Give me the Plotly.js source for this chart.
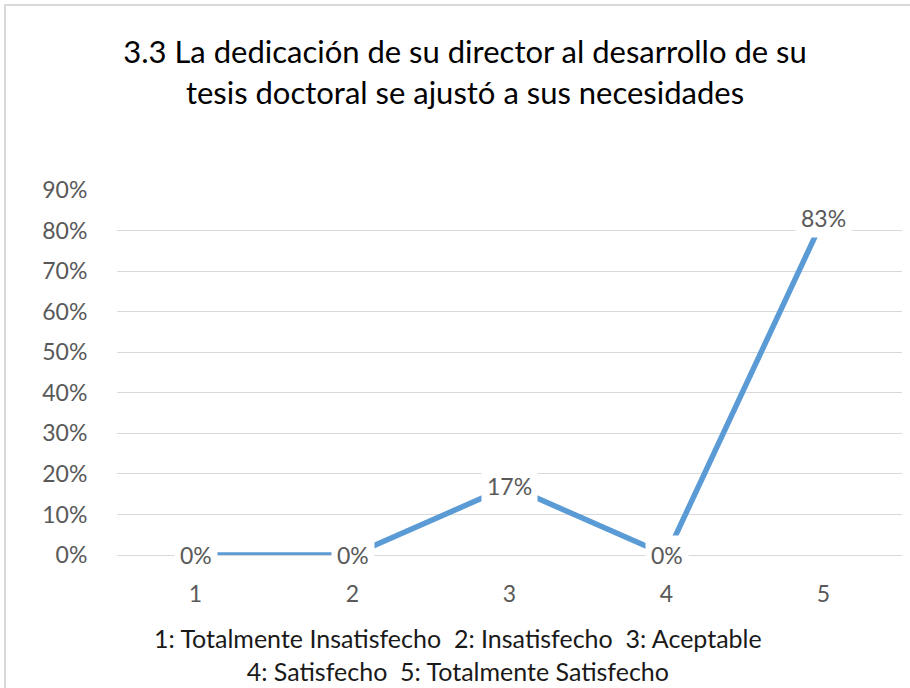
<!DOCTYPE html>
<html><head><meta charset="utf-8">
<script src="https://cdn.plot.ly/plotly-3.0.1.min.js"></script>
<style>
html,body{margin:0;padding:0;background:#fff;overflow:hidden;}
#frame{position:absolute;left:4px;top:4px;width:920px;height:700px;border:2px solid #d9d9d9;}
#chart{position:absolute;left:0;top:0;width:910px;height:688px;}
</style></head>
<body>
<div id="frame"></div>
<div id="chart"></div>
<script>
const categories = ['1','2','3','4','5'];
const values = [0, 0, 0.17, 0, 0.83];
const labels = ['0%','0%','17%','0%','83%'];
const yTicks = [0,0.1,0.2,0.3,0.4,0.5,0.6,0.7,0.8,0.9];
const yTickText = ['0%','10%','20%','30%','40%','50%','60%','70%','80%','90%'];
const titleText = '3.3 La dedicación de su director al desarrollo de su<br>tesis doctoral se ajustó a sus necesidades';
const legendText = '1: Totalmente Insatisfecho  2: Insatisfecho  3: Aceptable<br>4: Satisfecho  5: Totalmente Satisfecho';

const FONT = "Lato, 'Open Sans', sans-serif";

const trace = {
  x: categories, y: values, type: 'scatter', mode: 'lines',
  line: {color: '#5B9BD5', width: 5.5}, hoverinfo: 'none'
};

const annotations = categories.map((c, i) => ({
  x: i, y: values[i], xref: 'x', yref: 'y', text: labels[i], showarrow: false,
  font: {family: FONT, size: 23, color: '#595959'}, bgcolor: '#ffffff', borderpad: 5
}));
annotations.push({
  xref: 'paper', yref: 'paper', x: 0.435, y: -0.18, yanchor: 'top', xanchor: 'center',
  text: legendText, showarrow: false, align: 'center',
  font: {family: FONT, size: 25, color: '#1a1a1a'}
});

const layout = {
  width: 910, height: 688,
  margin: {l: 117, r: 8, t: 190, b: 133},
  paper_bgcolor: 'rgba(0,0,0,0)', plot_bgcolor: 'rgba(0,0,0,0)',
  showlegend: false,
  title: {text: titleText, x: 0.511, xanchor: 'center', y: 0.908, yanchor: 'top',
    font: {family: FONT, size: 31, color: '#000000'}},
  xaxis: {type: 'category', range: [-0.5, 4.5], showgrid: false, zeroline: false,
    showline: false, ticks: 'outside', ticklen: 18, tickcolor: 'rgba(0,0,0,0)',
    tickfont: {family: FONT, size: 23, color: '#595959'}, fixedrange: true},
  yaxis: {range: [0, 0.9], tickvals: yTicks, ticktext: yTickText,
    showgrid: true, gridcolor: '#d9d9d9', gridwidth: 1, zeroline: true,
    zerolinecolor: '#d9d9d9', zerolinewidth: 1, showline: false,
    ticks: 'outside', ticklen: 24, tickcolor: 'rgba(0,0,0,0)',
    tickfont: {family: FONT, size: 23, color: '#595959'}, fixedrange: true},
  annotations: annotations
};

Plotly.newPlot('chart', [trace], layout, {displayModeBar: false, staticPlot: true});
</script>
</body></html>
